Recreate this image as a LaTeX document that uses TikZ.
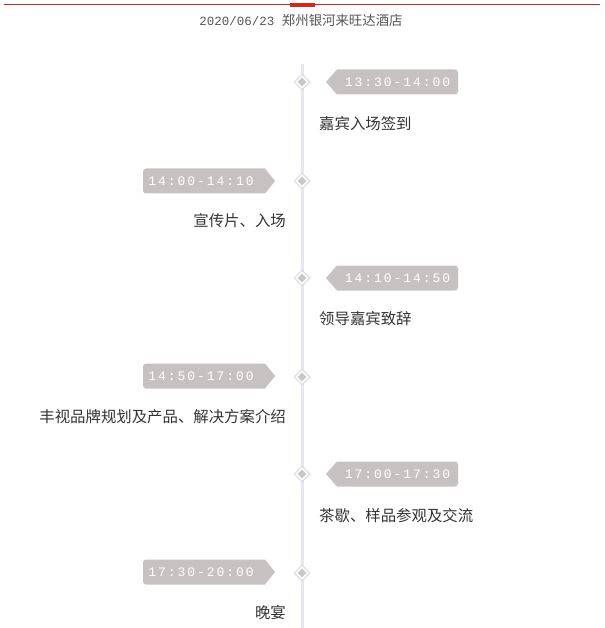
\documentclass[tikz,border=0pt]{standalone}
\usepackage{fontspec}
\setmainfont{Noto Sans CJK SC}
\newfontfamily\timefont[LetterSpace=15]{Liberation Mono}
\newfontfamily\datefont{Liberation Mono}
\usetikzlibrary{calc}
\usetikzlibrary{shapes.geometric}

\definecolor{tagc}{HTML}{C6C2C2}
\definecolor{linec}{HTML}{E6E8EF}
\definecolor{topred}{HTML}{D7261E}
\definecolor{txtc}{HTML}{333333}
\definecolor{datec}{HTML}{555555}
\definecolor{diac}{HTML}{DADADA}
\definecolor{diain}{HTML}{C8C8C8}

\begin{document}
\begin{tikzpicture}[x=1pt,y=-1pt,
  timetxt/.style={text=white, inner sep=0pt, font=\timefont\fontsize{13}{14}\selectfont},
  event/.style={text=txtc, inner sep=0pt, font=\fontsize{15.4}{17}\selectfont},
  dia/.style={diamond, draw=diac, fill=white, line width=1pt, minimum size=16pt, inner sep=0pt},
  diacore/.style={diamond, fill=diain, minimum size=9pt, inner sep=0pt}]

\useasboundingbox (0,0) rectangle (604,628);

% top rule and date
\draw[topred, line width=1pt] (4,5) -- (600,5);
\fill[topred] (290,3) rectangle (315,7.5);
\node[text=datec, inner sep=0pt] (date) at (301,20)
  {{\datefont\fontsize{12.5}{14}\selectfont 2020/06/23 }{\fontsize{13.4}{15}\selectfont 郑州银河来旺达酒店}};

% time axis
\coordinate (top) at (302,64); \coordinate (bot) at (302,628);
\draw[linec, line width=3pt] (top) -- (bot);

% 1
\node[dia] (d1) at (302,82) {}; \node[diacore] at (d1) {};
\coordinate (A1) at (326,82);
\fill[tagc] (A1) -- ++(11,-12.5) [rounded corners=3pt] -- ++(121,0) -- ++(0,25) [sharp corners] -- ++(-121,0) -- cycle;
\node[timetxt] (T1) at ($(A1)+(71.5,0)$) {13:30-14:00};
\node[event, anchor=west] (E1) at (319,124) {嘉宾入场签到};

% 2
\node[dia] (d2) at (302,181) {}; \node[diacore] at (d2) {};
\coordinate (A2) at (143,181);
\fill[tagc] (A2) [rounded corners=3pt] -- ++(0,-12.5) [sharp corners] -- ++(122,0) -- ++(10,12.5) -- ++(-10,12.5) [rounded corners=3pt] -- ++(-122,0) -- cycle;
\node[timetxt] (T2) at ($(A2)+(58,0)$) {14:00-14:10};
\node[event, anchor=east] (E2) at (286,221) {宣传片、入场};

% 3
\node[dia] (d3) at (302,278) {}; \node[diacore] at (d3) {};
\coordinate (A3) at (326,278);
\fill[tagc] (A3) -- ++(11,-12.5) [rounded corners=3pt] -- ++(121,0) -- ++(0,25) [sharp corners] -- ++(-121,0) -- cycle;
\node[timetxt] (T3) at ($(A3)+(71.5,0)$) {14:10-14:50};
\node[event, anchor=west] (E3) at (319,319) {领导嘉宾致辞};

% 4
\node[dia] (d4) at (302,377) {}; \node[diacore] at (d4) {};
\coordinate (A4) at (143,376);
\fill[tagc] (A4) [rounded corners=3pt] -- ++(0,-12.5) [sharp corners] -- ++(122,0) -- ++(10,12.5) -- ++(-10,12.5) [rounded corners=3pt] -- ++(-122,0) -- cycle;
\node[timetxt] (T4) at ($(A4)+(58,0)$) {14:50-17:00};
\node[event, anchor=east] (E4) at (286,417) {丰视品牌规划及产品、解决方案介绍};

% 5
\node[dia] (d5) at (302,474) {}; \node[diacore] at (d5) {};
\coordinate (A5) at (326,474);
\fill[tagc] (A5) -- ++(11,-12.5) [rounded corners=3pt] -- ++(121,0) -- ++(0,25) [sharp corners] -- ++(-121,0) -- cycle;
\node[timetxt] (T5) at ($(A5)+(71.5,0)$) {17:00-17:30};
\node[event, anchor=west] (E5) at (319,516) {茶歇、样品参观及交流};

% 6
\node[dia] (d6) at (302,573) {}; \node[diacore] at (d6) {};
\coordinate (A6) at (143,572);
\fill[tagc] (A6) [rounded corners=3pt] -- ++(0,-12.5) [sharp corners] -- ++(122,0) -- ++(10,12.5) -- ++(-10,12.5) [rounded corners=3pt] -- ++(-122,0) -- cycle;
\node[timetxt] (T6) at ($(A6)+(58,0)$) {17:30-20:00};
\node[event, anchor=east] (E6) at (286,613) {晚宴};

\end{tikzpicture}
\end{document}
